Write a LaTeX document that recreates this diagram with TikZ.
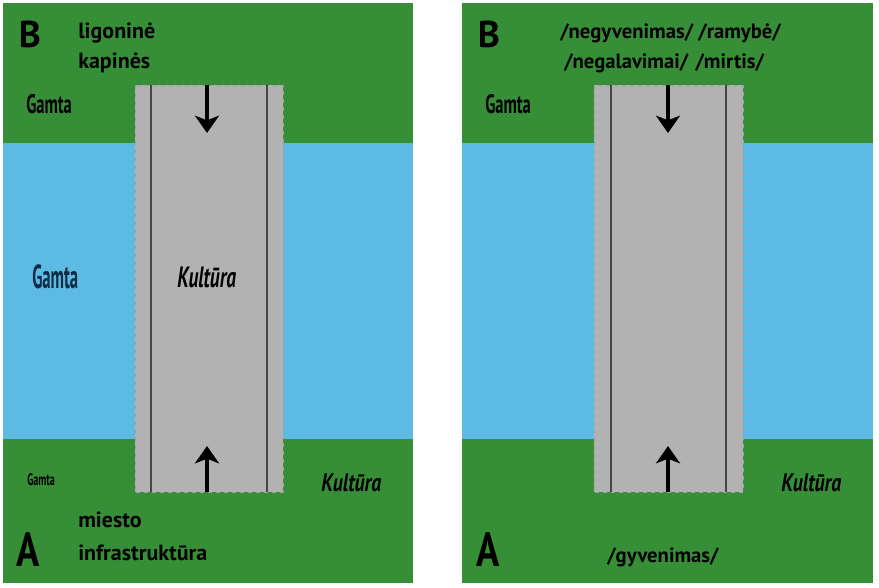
\documentclass[tikz,border=0pt]{standalone}
\usepackage{fontspec}
\setmainfont{PT Sans}
\usepackage{graphicx}
\usetikzlibrary{arrows.meta}
\definecolor{grass}{HTML}{368E37}
\definecolor{water}{HTML}{5DBAE3}
\definecolor{asphalt}{HTML}{B2B2B2}
\definecolor{navy}{HTML}{0D2B45}
\tikzset{field/.style={fill=grass, draw=none}, river/.style={fill=water, draw=none}}
\tikzset{
    lane/.style={fill=asphalt, draw=gray!75, dashed, line width=0.6pt},
    kerb/.style={draw=gray!55!black, line width=0.8pt},
    flow/.style={-{Stealth[length=13pt, width=18pt, inset=3.5pt]}, line width=2.4pt, black},
    letter/.style={font=\bfseries\fontsize{28}{28}\selectfont, inner sep=0pt},
    word/.style={font=\bfseries\fontsize{15.5}{16}\selectfont, inner sep=0pt, anchor=base west},
    tag/.style={inner sep=0pt, anchor=base west},
}
\newcommand{\squeeze}[2]{\scalebox{#1}[1]{#2}}

\begin{document}
\begin{tikzpicture}[x=0.75pt, y=-0.75pt]
                 \useasboundingbox (0,0) rectangle (879,587);
                 \fill[white] (0,0) rectangle (879,587);

                 \fill[field] (3,3) rectangle (413,583);
                 \fill[river] (3,143) rectangle (413,439);
                 \draw[lane] (135,85) rectangle (283,492);
                 \draw[kerb] (151,85)--(151,492);
                 \draw[kerb] (267,85)--(267,492);

                 \fill[field] (462,3) rectangle (873,583);
                 \fill[river] (462,143) rectangle (873,439);
                 \draw[lane] (594,85) rectangle (743,492);
                 \draw[kerb] (611,85)--(611,492);
                 \draw[kerb] (726,85)--(726,492);

                 \coordinate (topL) at (207,85);
                 \coordinate (headL) at (207,133);
                 \coordinate (botL) at (207,492);
                 \coordinate (tailL) at (207,446);
                 \coordinate (topR) at (668,85);
                 \coordinate (headR) at (668,133);
                 \coordinate (botR) at (668,492);
                 \coordinate (tailR) at (668,446);
                 \draw[flow] (topL)--(headL);
                 \draw[flow] (botL)--(tailL);
                 \draw[flow] (topR)--(headR);
                 \draw[flow] (botR)--(tailR);

                 \node[letter] (bL) at (30,34) {B};
                 \node[letter] (aL) at (28,550) {\squeeze{0.8}{\fontsize{36}{36}\selectfont A}};
                 \node[word, font=\bfseries\fontsize{16.5}{17}\selectfont] (hospital) at (78,38) {ligoninė};
                 \node[word, font=\bfseries\fontsize{16.5}{17}\selectfont] (cemetery) at (78,68) {kapinės};
                 \node[word, font=\bfseries\fontsize{16.5}{17}\selectfont] (town) at (78,527) {miesto};
                 \node[word, font=\bfseries\fontsize{16.5}{17}\selectfont] (infra) at (78,560) {infrastruktūra};
                 \node[tag, font=\bfseries\fontsize{20}{20}\selectfont] (natTopL) at (26,113) {\squeeze{0.62}{Gamta}};
                 \node[tag, text=navy, font=\bfseries\fontsize{25}{25}\selectfont] (natMid) at (32,288) {\squeeze{0.5}{Gamta}};
                 \node[tag, font=\bfseries\itshape\fontsize{22}{22}\selectfont] (culMid) at (177,287) {\squeeze{0.66}{Kultūra}};
                 \node[tag, font=\bfseries\fontsize{12.5}{13}\selectfont] (natBotL) at (27,485) {\squeeze{0.6}{Gamta}};
                 \node[tag, font=\bfseries\itshape\fontsize{19}{19}\selectfont] (culBotL) at (321,491) {\squeeze{0.78}{Kultūra}};

                 \node[letter] (bR) at (489,34) {B};
                 \node[letter] (aR) at (488,550) {\squeeze{0.8}{\fontsize{36}{36}\selectfont A}};
                 \node[word] (rest) at (560,38) {/negyvenimas/\hspace{0.25em}/ramybė/};
                 \node[word] (death) at (564,68) {/negalavimai/\hspace{0.35em}/mirtis/};
                 \node[word] (life) at (607,562) {/gyvenimas/};
                 \node[tag, font=\bfseries\fontsize{20}{20}\selectfont] (natTopR) at (485,113) {\squeeze{0.62}{Gamta}};
                 \node[tag, font=\bfseries\itshape\fontsize{19}{19}\selectfont] (culBotR) at (781,491) {\squeeze{0.78}{Kultūra}};
\end{tikzpicture}
\end{document}
